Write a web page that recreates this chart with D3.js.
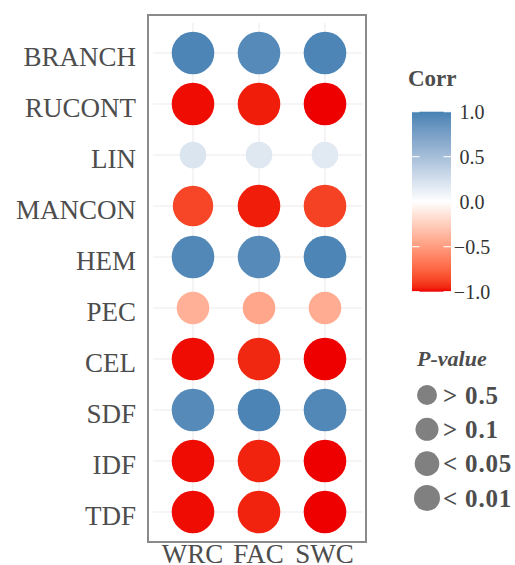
<!DOCTYPE html>
<html>
<head>
<meta charset="utf-8">
<script src="https://cdn.jsdelivr.net/npm/d3@7"></script>
<style>
  html, body { margin: 0; padding: 0; background: #fff; }
  svg { display: block; }
  text { font-family: "Liberation Serif", "Times New Roman", serif; }
</style>
</head>
<body>
<script>
// Variables (rows, top to bottom) and soil properties (columns)
const variables = ["BRANCH", "RUCONT", "LIN", "MANCON", "HEM", "PEC", "CEL", "SDF", "IDF", "TDF"];
const properties = ["WRC", "FAC", "SWC"];

// Correlation coefficients, one array per column, in row order
const corrWRC = [0.97, -0.99, 0.20, -0.87, 0.95, -0.40, -0.99, 0.93, -0.99, -0.99];
const corrFAC = [0.93, -0.97, 0.18, -0.97, 0.93, -0.45, -0.95, 0.98, -0.96, -0.96];
const corrSWC = [0.97, -1.00, 0.17, -0.88, 0.97, -0.42, -1.00, 0.95, -1.00, -1.00];

// P-value class of each correlation, same order
const pWRC = ["< 0.01", "< 0.01", "> 0.5", "< 0.05", "< 0.01", "> 0.1", "< 0.01", "< 0.01", "< 0.01", "< 0.01"];
const pFAC = ["< 0.01", "< 0.01", "> 0.5", "< 0.01", "< 0.01", "> 0.1", "< 0.01", "< 0.01", "< 0.01", "< 0.01"];
const pSWC = ["< 0.01", "< 0.01", "> 0.5", "< 0.01", "< 0.01", "> 0.1", "< 0.01", "< 0.01", "< 0.01", "< 0.01"];

const pClasses = ["> 0.5", "> 0.1", "< 0.05", "< 0.01"];
const corrTicks = [1.0, 0.5, 0.0, -0.5, -1.0];

const corrByCol = { WRC: corrWRC, FAC: corrFAC, SWC: corrSWC };
const pByCol = { WRC: pWRC, FAC: pFAC, SWC: pSWC };

const cells = [];
properties.forEach(p => {
  variables.forEach((v, i) => {
    cells.push({ variable: v, property: p, corr: corrByCol[p][i], pclass: pByCol[p][i] });
  });
});

const W = 515, H = 565;
const svg = d3.select("body").append("svg").attr("width", W).attr("height", H);

// Panel geometry
const panel = { left: 148, right: 366, top: 15, bottom: 542 };

const x = d3.scalePoint().domain(properties).range([193, 325]);
const y = d3.scalePoint().domain(variables).range([53, 512]);

// Diverging fill: red (negative) through white to steel blue (positive), Lab interpolation
const fillNeg = d3.scaleLinear().domain([-1, 0]).range(["#EE0000", "#FFFFFF"]).interpolate(d3.interpolateLab).clamp(true);
const fillPos = d3.scaleLinear().domain([0, 1]).range(["#FFFFFF", "#4682B4"]).interpolate(d3.interpolateLab).clamp(true);
const fill = v => (v < 0 ? fillNeg(v) : fillPos(v));

const radius = d3.scaleOrdinal().domain(pClasses).range([13.3, 16.3, 20.2, 21.3]);
const legendRadius = d3.scaleOrdinal().domain(pClasses).range([10, 11.5, 12.3, 13]);

// Grid lines
const grid = svg.append("g").attr("stroke", "#EBEBEB").attr("stroke-width", 1.1);
grid.selectAll("line.h").data(variables).join("line")
  .attr("x1", 153).attr("x2", 362)
  .attr("y1", d => y(d)).attr("y2", d => y(d));
grid.selectAll("line.v").data(properties).join("line")
  .attr("y1", 23).attr("y2", 534)
  .attr("x1", d => x(d)).attr("x2", d => x(d));

// Circles
svg.append("g").selectAll("circle").data(cells).join("circle")
  .attr("cx", d => x(d.property))
  .attr("cy", d => y(d.variable))
  .attr("r", d => radius(d.pclass))
  .attr("fill", d => fill(d.corr));

// Panel border
svg.append("rect")
  .attr("x", panel.left).attr("y", panel.top)
  .attr("width", panel.right - panel.left).attr("height", panel.bottom - panel.top)
  .attr("fill", "none").attr("stroke", "#8A8A8A").attr("stroke-width", 2);

// Axes
const yAxis = d3.axisLeft(y).tickSize(0).tickPadding(0);
const gy = svg.append("g").attr("transform", "translate(136,0)").call(yAxis);
gy.select(".domain").remove();
gy.selectAll("text")
  .attr("font-size", 27).attr("fill", "#4D4D4D").attr("dy", "0.48em");

const xAxis = d3.axisBottom(x).tickSize(0).tickPadding(0);
const gx = svg.append("g").attr("transform", "translate(-1,544)").call(xAxis);
gx.select(".domain").remove();
gx.selectAll("text")
  .attr("font-size", 27).attr("fill", "#4D4D4D").attr("dy", "0.71em");

// Colour bar legend
const bar = { x: 412, w: 39, top: 111.7, bottom: 291.7 };
const cy = d3.scaleLinear().domain([1, -1]).range([bar.top, bar.bottom]);

svg.append("text").attr("x", 408).attr("y", 86)
  .attr("font-size", 23).attr("font-weight", "bold").attr("fill", "#4D4D4D")
  .text("Corr");

const defs = svg.append("defs");
const grad = defs.append("linearGradient").attr("id", "corrGrad")
  .attr("x1", 0).attr("y1", 0).attr("x2", 0).attr("y2", 1);
d3.range(0, 41).forEach(i => {
  const v = 1 - i / 20;
  grad.append("stop").attr("offset", (i / 40 * 100) + "%").attr("stop-color", fill(v));
});
svg.append("rect").attr("x", bar.x).attr("y", bar.top)
  .attr("width", bar.w).attr("height", bar.bottom - bar.top)
  .attr("fill", "url(#corrGrad)");

const tickG = svg.append("g");
tickG.selectAll("line.l").data(corrTicks).join("line")
  .attr("x1", bar.x).attr("x2", bar.x + 7.5)
  .attr("y1", d => cy(d)).attr("y2", d => cy(d))
  .attr("stroke", "#fff").attr("stroke-width", 1.1);
tickG.selectAll("line.r").data(corrTicks).join("line")
  .attr("x1", bar.x + bar.w - 7.5).attr("x2", bar.x + bar.w)
  .attr("y1", d => cy(d)).attr("y2", d => cy(d))
  .attr("stroke", "#fff").attr("stroke-width", 1.1);
tickG.selectAll("text").data(corrTicks).join("text")
  .attr("x", 472).attr("y", d => cy(d)).attr("dy", "0.35em")
  .attr("text-anchor", "middle").attr("font-size", 20).attr("fill", "#333")
  .text(d => d3.format(".1f")(d).replace("-", "\u2212"));

// P-value size legend
svg.append("text").attr("x", 417).attr("y", 366)
  .attr("font-size", 22).attr("font-weight", "bold").attr("font-style", "italic").attr("fill", "#4D4D4D")
  .text("P-value");

const ly = d3.scalePoint().domain(pClasses).range([395, 498]);
const lg = svg.append("g");
lg.selectAll("circle").data(pClasses).join("circle")
  .attr("cx", 427).attr("cy", d => ly(d)).attr("r", d => legendRadius(d))
  .attr("fill", "#808080");
lg.selectAll("text").data(pClasses).join("text")
  .attr("x", 443).attr("y", d => ly(d)).attr("dy", "0.35em")
  .attr("font-size", 25).attr("font-weight", "bold").attr("fill", "#4D4D4D")
  .attr("letter-spacing", 0.8)
  .text(d => d);
</script>
</body>
</html>
